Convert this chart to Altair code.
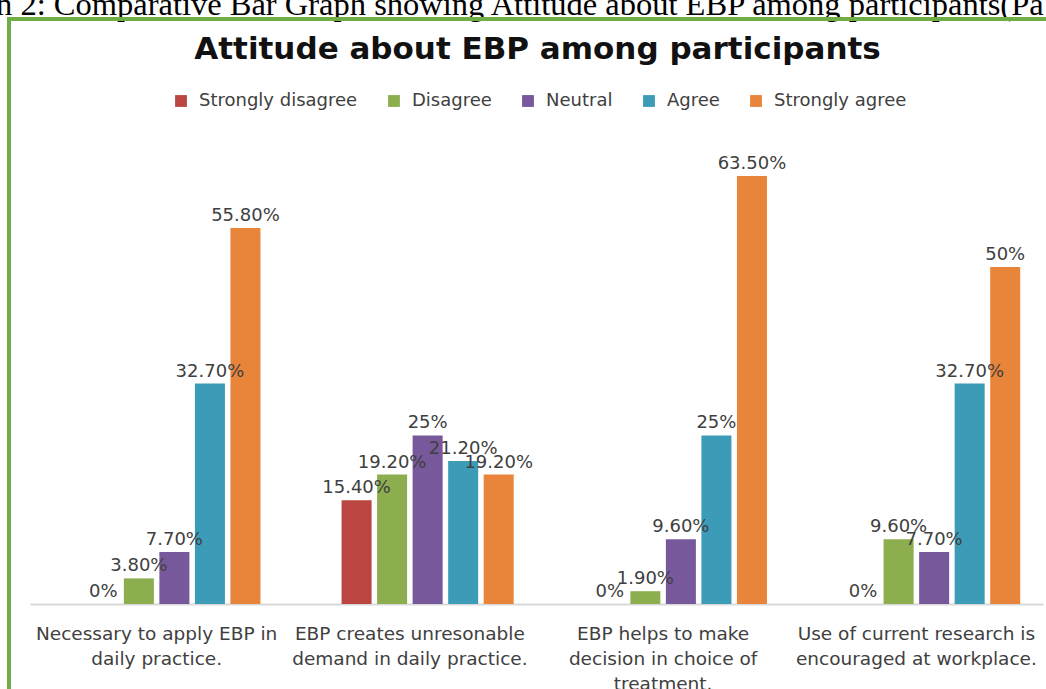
import altair as alt
import pandas as pd

# ---- data ----
categories = [
    "Necessary to apply EBP in|daily practice.",
    "EBP creates unresonable|demand in daily practice.",
    "EBP helps to make|decision in choice of|treatment.",
    "Use of current research is|encouraged at workplace.",
]
series = ["Strongly disagree", "Disagree", "Neutral", "Agree", "Strongly agree"]
colors = ["#bb4541", "#8cae4e", "#77589b", "#3c9bb6", "#e9853a"]

strongly_disagree = [0, 15.4, 0, 0]
disagree = [3.8, 19.2, 1.9, 9.6]
neutral = [7.7, 25, 9.6, 7.7]
agree = [32.7, 21.2, 25, 32.7]
strongly_agree = [55.8, 19.2, 63.5, 50]

label_sd = ["0%", "15.40%", "0%", "0%"]
label_d = ["3.80%", "19.20%", "1.90%", "9.60%"]
label_n = ["7.70%", "25%", "9.60%", "7.70%"]
label_a = ["32.70%", "21.20%", "25%", "32.70%"]
label_sa = ["55.80%", "19.20%", "63.50%", "50%"]

chart_title = "Attitude about EBP among participants"
caption = "n 2: Comparative Bar Graph showing Attitude about EBP among participants(Pa"

values = [strongly_disagree, disagree, neutral, agree, strongly_agree]
labels = [label_sd, label_d, label_n, label_a, label_sa]

rows = []
for s, vals, labs in zip(series, values, labels):
    for c, v, l in zip(categories, vals, labs):
        rows.append({"category": c, "series": s, "value": v, "label": l})
df = pd.DataFrame(rows)

offset_domain = [" "] + series  # empty leading slot as in the original chart

base = alt.Chart(df).encode(
    x=alt.X(
        "category:N",
        sort=categories,
        scale=alt.Scale(domain=categories, paddingInner=0.18, paddingOuter=0.09),
        axis=alt.Axis(
            title=None,
            labelExpr="split(datum.label, '|')",
            labelFont="DejaVu Sans",
            labelFontSize=18.5,
            labelColor="#404040",
            labelLimit=400,
            labelBaseline="top",
            labelPadding=20,
            labelLineHeight=25,
            labelOverlap=False,
            labelAngle=0,
            ticks=False,
            tickSize=0,
            domainColor="#d9d9d9",
            domainWidth=2,
            grid=False,
        ),
    ),
    xOffset=alt.XOffset(
        "series:N",
        scale=alt.Scale(domain=offset_domain, paddingInner=0.155, paddingOuter=0),
    ),
    y=alt.Y("value:Q", scale=alt.Scale(domain=[0, 63.5], nice=False, zero=True), axis=None),
)

bars = base.mark_bar().encode(
    color=alt.Color(
        "series:N",
        scale=alt.Scale(domain=series, range=colors),
        legend=alt.Legend(
            orient="none",
            legendX=142,
            legendY=-84,
            direction="horizontal",
            title=None,
            symbolType="square",
            symbolSize=140,
            symbolStrokeWidth=0,
            labelFont="DejaVu Sans",
            labelFontSize=18,
            labelColor="#404040",
            labelOffset=9,
            columnPadding=27,
            padding=0,
            labelLimit=300,
        ),
    )
)

value_text = base.mark_text(
    baseline="alphabetic", dy=-7, font="DejaVu Sans", fontSize=18, color="#404040"
).encode(text="label:N")

deco = alt.Data(values=[{"title": chart_title, "caption": caption}])

border = alt.Chart(deco).mark_rect(
    fillOpacity=0, stroke="#70ad47", strokeWidth=4
).encode(x=alt.value(-21), x2=alt.value(1100), y=alt.value(-157), y2=alt.value(700))

caption_text = alt.Chart(deco).mark_text(
    align="left", baseline="alphabetic", font="Liberation Serif", fontSize=32.5, color="#000000"
).encode(x=alt.value(-34), y=alt.value(-161), text="caption:N")

title_text = alt.Chart(deco).mark_text(
    align="center", baseline="alphabetic", font="DejaVu Sans", fontWeight="bold",
    fontSize=31, color="#111111"
).encode(x=alt.value(507.5), y=alt.value(-117), text="title:N")

chart = (
    alt.layer(caption_text, border, title_text, bars, value_text)
    .properties(
        width=1013,
        height=428,
        autosize=alt.AutoSizeParams(type="none"),
        padding={"left": 30, "top": 176, "right": 3, "bottom": 85},
        background="white",
    )
    .configure_view(strokeWidth=0)
)

chart.save("out.html", embed_options={"renderer": "svg", "actions": False})
